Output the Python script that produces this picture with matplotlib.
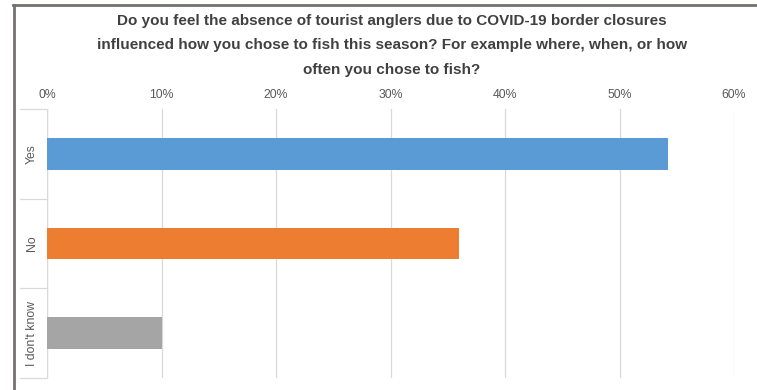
import matplotlib
matplotlib.use("Agg")
import matplotlib.pyplot as plt
from matplotlib.lines import Line2D
from matplotlib.ticker import FuncFormatter

categories = ["Yes", "No", "I don't know"]
values = [54.2, 36.0, 10.0]
colors = ["#5B9BD5", "#ED7D31", "#A5A5A5"]
xticks = [0, 10, 20, 30, 40, 50, 60]
title = ("Do you feel the absence of tourist anglers due to COVID-19 border closures\n"
         "influenced how you chose to fish this season? For example where, when, or how\n"
         "often you chose to fish?")

W, H = 757, 390
fig = plt.figure(figsize=(W / 100, H / 100), dpi=100)
plt.rcParams['font.family'] = ['Liberation Sans', 'DejaVu Sans']

ax = fig.add_axes([47 / W, 1 - 378 / H, (734 - 47) / W, (378 - 109) / H])
ypos = list(range(len(categories)))
ax.barh(ypos, values, height=0.355, color=colors, zorder=3)
ax.set_xlim(0, 60)
ax.set_ylim(len(categories) - 0.5, -0.5)
ax.set_xticks(xticks)
ax.xaxis.set_major_formatter(FuncFormatter(lambda v, p: f"{v:.0f}%"))
ax.xaxis.tick_top()
ax.tick_params(axis='x', length=0, pad=6, labelsize=8.8, labelcolor="#595959")
ax.set_yticks(ypos)
ax.set_yticklabels(categories, rotation=90, va='center', ha='center')
ax.tick_params(axis='y', length=0, pad=11, labelsize=8.8, labelcolor="#595959")
ax.grid(axis='x', color="#D9D9D9", linewidth=0.9, zorder=0)
for s in ax.spines.values():
    s.set_visible(False)
ax.axvline(0, color="#D9D9D9", linewidth=0.9, zorder=1)

# category separators extending into label area
ytr = ax.get_yaxis_transform()
for b in [-0.5, 0.5, 1.5, 2.5]:
    ax.add_line(Line2D([-27 / 687, 0], [b, b], transform=ytr, color="#D9D9D9",
                       linewidth=0.9, clip_on=False))

fig.text(392 / W, 1 - 45.5 / H, title, ha='center', va='center', fontsize=11,
         fontweight='bold', color="#404040", linespacing=1.95)

# outer frame
fig.add_artist(Line2D([13 / W, 1], [1 - 5 / H, 1 - 5 / H], transform=fig.transFigure,
                      color="#767171", linewidth=2.0))
fig.add_artist(Line2D([14 / W, 14 / W], [0, 1 - 5 / H], transform=fig.transFigure,
                      color="#767171", linewidth=2.0))
fig.add_artist(Line2D([756.5 / W, 756.5 / W], [0, 1 - 6 / H], transform=fig.transFigure,
                      color="#EEEEEE", linewidth=0.8))

fig.savefig("out.png", dpi=100)
